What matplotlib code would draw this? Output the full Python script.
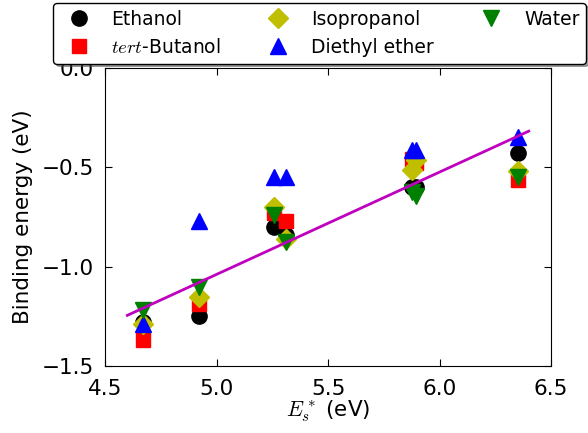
import numpy as np
import matplotlib
matplotlib.use('Agg')
from matplotlib import pyplot as plt

plt.rcParams['mathtext.fontset'] = 'cm'
plt.rcParams['font.family'] = 'DejaVu Sans'

# x positions (E_s*, eV) shared by all solvents
es = [4.67, 4.92, 5.26, 5.31, 5.875, 5.895, 6.35]

# binding energies (eV)
ethanol = [-1.28, -1.25, -0.80, -0.84, -0.60, -0.60, -0.43]
tert_butanol = [-1.37, -1.19, -0.73, -0.77, -0.46, -0.48, -0.565]
isopropanol = [-1.29, -1.155, -0.70, -0.86, -0.515, -0.465, -0.52]
diethyl_ether = [-1.29, -0.77, -0.55, -0.55, -0.415, -0.415, -0.345]
water = [-1.22, -1.10, -0.74, -0.875, -0.625, -0.645, -0.55]

# linear fit endpoints
fit_x = [4.6, 6.4]
fit_y = [-1.245, -0.318]

fig = plt.figure(figsize=(5.88, 4.33), dpi=100)
ax = fig.add_axes([0.1786, 0.1547, 0.7585, 0.6883])

ms = 11
ax.plot(es, ethanol, 'o', color='k', mec='k', ms=ms, label='Ethanol', ls='none')
ax.plot(es, tert_butanol, 's', color='r', mec='r', ms=ms - 1, label='$tert$-Butanol', ls='none')
ax.plot(es, isopropanol, 'D', color='y', mec='y', ms=ms - 1, label='Isopropanol', ls='none')
ax.plot(es, diethyl_ether, '^', color='b', mec='b', ms=ms, label='Diethyl ether', ls='none')
ax.plot(es, water, 'v', color='g', mec='g', ms=ms, label='Water', ls='none')
ax.plot(fit_x, fit_y, '-', color='m', lw=2)

ax.set_xlim(4.5, 6.5)
ax.set_ylim(-1.5, 0.0)
ax.set_xticks([4.5, 5.0, 5.5, 6.0, 6.5])
ax.set_yticks([-1.5, -1.0, -0.5, 0.0])
ax.tick_params(direction='in', top=True, right=True, labelsize=15.5, length=5)
ax.tick_params(axis='x', pad=9)
ax.tick_params(axis='y', pad=8)
ax.set_xlabel('$E_s^*$ (eV)', fontsize=15.5, labelpad=0)
ax.set_ylabel('Binding energy (eV)', fontsize=15.5, labelpad=6)

leg = fig.legend(loc='upper right', bbox_to_anchor=(0.9966, 0.993), ncol=3, numpoints=1,
                 fontsize=13.5, shadow=True, fancybox=True, framealpha=1,
                 edgecolor='k', handletextpad=0.75, columnspacing=2.05,
                 borderpad=0.35, labelspacing=0.5, borderaxespad=0)
leg.get_frame().set_linewidth(1)

fig.savefig('out.png', dpi=100)
